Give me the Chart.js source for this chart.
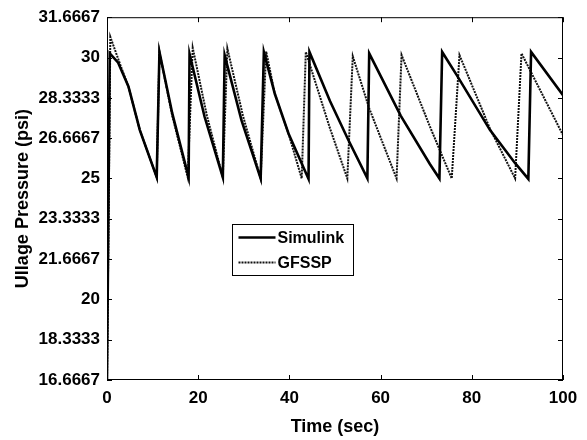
<!DOCTYPE html>
<html lang="en">
<head>
  <meta charset="UTF-8">
  <title>Ullage Pressure - Simulink vs GFSSP</title>
  <script src="https://cdn.jsdelivr.net/npm/chart.js"></script>
  <style>
    html, body { margin: 0; padding: 0; background: #fff; }
    #wrap { width: 587px; height: 440px; }
  </style>
</head>
<body>
  <div id="wrap"><canvas id="ullageChart" width="587" height="440"></canvas></div>

  <script>
    // Values
    const simulinkTime = [0, 0.6, 2.4, 4.7, 7.2, 10.9, 11.5, 14.3, 17.9, 18.1, 21.4, 25.4, 25.8, 29.5, 33.7,
      34.4, 36.8, 39.8, 44.2, 44.4, 48.9, 52.9, 57.1, 57.5, 64.4, 70.8, 72.9, 73.5, 76.7, 84, 89.5, 92.4, 93.0, 100];
    const simulinkPressure = [16.67, 30.17, 29.8, 28.8, 27.0, 25.05, 30.23, 27.7, 25.05, 30.15, 27.55, 25.05, 30.1, 27.4, 25.0,
      30.23, 28.5, 26.86, 24.98, 30.23, 28.2, 26.6, 25.0, 30.17, 27.6, 25.6, 25.0, 30.23, 29.27, 27.0, 25.63, 24.98, 30.23, 28.44];

    const gfsspTime = [0, 0.73, 3.1, 4.7, 7.2, 10.9, 11.5, 14.3, 17.7, 18.8, 21.9, 25.4, 26.4, 29.8, 33.7,
      34.9, 36.8, 39.8, 42.7, 43.6, 48.9, 52.7, 53.9, 57.5, 63.5, 64.6, 70.8, 75.6, 77.3, 84, 89.5, 90.9, 100];
    const gfsspPressure = [16.67, 30.85, 29.6, 28.8, 27.0, 25.05, 30.23, 27.6, 25.05, 30.4, 27.6, 25.05, 30.37, 27.6, 25.0,
      30.25, 28.5, 26.86, 25.0, 30.23, 27.07, 25.0, 30.05, 27.9, 25.0, 30.1, 27.15, 25.0, 30.1, 27.05, 25.0, 30.17, 26.79];

    const xTicks = [0, 20, 40, 60, 80, 100];
    const yTickValues = [16.6667, 18.3333, 20, 21.6667, 23.3333, 25, 26.6667, 28.3333, 30, 31.6667];
    const yTickLabels = ['16.6667', '18.3333', '20', '21.6667', '23.3333', '25', '26.6667', '28.3333', '30', '31.6667'];

    const toPoints = (xs, ys) => xs.map((t, i) => ({ x: t, y: ys[i] }));
    const fontFamily = '"Liberation Sans", Arial, Helvetica, sans-serif';

    // Box round the axes, with ticks pointing inwards on all four sides
    const framePlugin = {
      id: 'frame',
      afterDatasetsDraw(chart) {
        const { ctx, chartArea: a, scales } = chart;
        ctx.save();
        ctx.strokeStyle = '#000';
        ctx.lineWidth = 1;
        ctx.strokeRect(a.left + 0.5, a.top + 0.5, a.right - a.left - 1, a.bottom - a.top - 1);
        ctx.beginPath();
        xTicks.forEach(v => {
          const px = Math.round(scales.x.getPixelForValue(v)) + 0.5;
          ctx.moveTo(px, a.bottom); ctx.lineTo(px, a.bottom - 5);
          ctx.moveTo(px, a.top); ctx.lineTo(px, a.top + 5);
        });
        yTickValues.forEach(v => {
          const py = Math.round(scales.y.getPixelForValue(v)) + 0.5;
          ctx.moveTo(a.left, py); ctx.lineTo(a.left + 5, py);
          ctx.moveTo(a.right, py); ctx.lineTo(a.right - 5, py);
        });
        ctx.stroke();
        ctx.restore();
      }
    };

    // Legend box inside the plot, like the MATLAB one
    const insideLegend = {
      id: 'insideLegend',
      afterDraw(chart) {
        const { ctx, chartArea: a } = chart;
        const w = a.right - a.left, h = a.bottom - a.top;
        const left = Math.round(a.left + w * 0.274) + 0.5;
        const top = Math.round(a.top + h * 0.570) + 0.5;
        const boxW = 121, boxH = 51;
        ctx.save();
        ctx.fillStyle = '#fff';
        ctx.fillRect(left, top, boxW, boxH);
        ctx.strokeStyle = '#000';
        ctx.lineWidth = 1;
        ctx.strokeRect(left, top, boxW, boxH);
        ctx.font = 'bold 16px ' + fontFamily;
        ctx.textBaseline = 'middle';
        ctx.fillStyle = '#000';
        chart.data.datasets.forEach((ds, i) => {
          const yy = top + 13 + i * 25;
          ctx.beginPath();
          ctx.strokeStyle = ds.borderColor;
          ctx.lineWidth = ds.borderWidth;
          ctx.setLineDash(ds.borderDash || []);
          ctx.moveTo(left + 6, yy);
          ctx.lineTo(left + 43, yy);
          ctx.stroke();
          ctx.setLineDash([]);
          ctx.fillText(ds.label, left + 45, yy + 1);
        });
        ctx.restore();
      }
    };

    const ctx = document.getElementById('ullageChart').getContext('2d');
    new Chart(ctx, {
      type: 'scatter',
      data: {
        datasets: [
          {
            label: 'Simulink',
            data: toPoints(simulinkTime, simulinkPressure),
            showLine: true,
            borderColor: '#000',
            borderWidth: 2.6,
            pointRadius: 0,
            tension: 0
          },
          {
            label: 'GFSSP',
            data: toPoints(gfsspTime, gfsspPressure),
            showLine: true,
            borderColor: '#111',
            borderWidth: 2,
            borderDash: [2, 1],
            pointRadius: 0,
            tension: 0
          }
        ]
      },
      options: {
        responsive: false,
        animation: false,
        layout: { padding: { left: 0, right: 24, top: 17, bottom: 0 } },
        plugins: {
          legend: { display: false },
          tooltip: { enabled: false }
        },
        scales: {
          x: {
            type: 'linear',
            min: 0,
            max: 100,
            afterFit(scale) { scale.height = 60; },
            afterBuildTicks(scale) { scale.ticks = xTicks.map(v => ({ value: v })); },
            grid: { display: false, drawTicks: false },
            border: { display: false },
            ticks: {
              color: '#000',
              padding: 8,
              maxRotation: 0,
              autoSkip: false,
              font: { family: fontFamily, size: 17, weight: 'bold' }
            },
            title: {
              display: true,
              text: 'Time (sec)',
              color: '#000',
              padding: { top: 0, bottom: 2 },
              font: { family: fontFamily, size: 18, weight: 'bold' }
            }
          },
          y: {
            type: 'linear',
            min: 16.6667,
            max: 31.6667,
            afterFit(scale) { scale.width = 107; },
            afterBuildTicks(scale) { scale.ticks = yTickValues.map(v => ({ value: v })); },
            grid: { display: false, drawTicks: false },
            border: { display: false },
            ticks: {
              color: '#000',
              padding: 7,
              autoSkip: false,
              font: { family: fontFamily, size: 17, weight: 'bold' },
              callback: function(value, index) {
                return yTickLabels[index];
              }
            },
            title: {
              display: true,
              text: 'Ullage Pressure (psi)',
              color: '#000',
              padding: { top: 12, bottom: 0 },
              font: { family: fontFamily, size: 18, weight: 'bold' }
            }
          }
        }
      },
      plugins: [framePlugin, insideLegend]
    });
  </script>
</body>
</html>
